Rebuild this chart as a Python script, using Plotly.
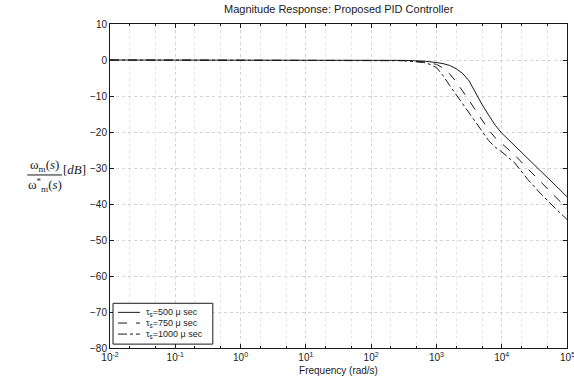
import plotly.graph_objects as go

# Closed-loop speed magnitude response for three sampling delays
log_freq = [-2.0, 2.0, 2.5, 2.8, 2.9, 3.0, 3.1, 3.2, 3.3, 3.4, 3.5, 3.6, 3.7,
            3.8, 3.9, 4.0, 4.2, 4.4, 4.6, 4.8, 5.0]
freq = [10 ** v for v in log_freq]

mag_500 = [0.0, -0.05, -0.1, -0.3, -0.45, -0.7, -1.0, -1.5, -2.4, -3.7, -5.8,
           -9.2, -12.4, -15.3, -18.1, -20.3, -23.9, -27.3, -30.9, -34.4, -38.0]
mag_750 = [0.0, -0.05, -0.15, -0.5, -0.8, -1.2, -2.2, -3.8, -6.0, -8.5, -11.2,
           -14.0, -16.8, -19.4, -21.6, -23.2, -26.4, -30.2, -34.0, -37.6, -41.2]
mag_1000 = [0.0, -0.05, -0.2, -0.7, -1.2, -2.1, -4.3, -7.0, -9.5, -12.0, -14.5,
            -17.1, -19.8, -22.4, -24.2, -25.5, -28.6, -33.2, -37.2, -40.8, -44.3]

series_names = ["τ<sub>s</sub>=500 μ sec", "τ<sub>s</sub>=750 μ sec",
                "τ<sub>s</sub>=1000 μ sec"]
series_dash = ["solid", "dash", "dashdot"]

x_tickvals = [1e-2, 1e-1, 1e0, 1e1, 1e2, 1e3, 1e4]
x_ticktext = ["10<sup>-2</sup>", "10<sup>-1</sup>", "10<sup>0</sup>",
              "10<sup>1</sup>", "10<sup>2</sup>", "10<sup>3</sup>",
              "10<sup>4</sup>"]
x_last_tick = 5
x_last_text = "10<sup>5</sup>"
y_tickvals = [10, 0, -10, -20, -30, -40, -50, -60, -70, -80]

INK = "#1a1a1a"
SANS = "Liberation Sans, Arial, sans-serif"

fig = go.Figure()
for name, mag, dash in zip(series_names, [mag_500, mag_750, mag_1000], series_dash):
    fig.add_trace(go.Scatter(
        x=freq, y=mag, mode="lines", name=name, showlegend=False,
        line=dict(color=INK, width=1, dash=dash),
    ))

axis_font = dict(family=SANS, size=10, color=INK)

fig.update_layout(
    width=574, height=380,
    margin=dict(l=110, r=6, t=24, b=30),
    paper_bgcolor="white", plot_bgcolor="white",
    title=dict(text="Magnitude Response: Proposed PID Controller",
               x=0.59, xanchor="center", y=0.985, yanchor="top",
               font=dict(family=SANS, size=11, color=INK)),
    font=axis_font,
    showlegend=False,
)

fig.update_xaxes(
    type="log", range=[-2, 5],
    tickvals=x_tickvals, ticktext=x_ticktext,
    ticks="inside", ticklen=4, tickcolor=INK,
    showline=True, linecolor=INK, linewidth=1, mirror="ticks",
    showgrid=True, gridcolor="#d4d4d4", griddash="dot", gridwidth=1,
    minor=dict(ticks="inside", ticklen=2, tickcolor=INK,
               showgrid=True, gridcolor="#e6e6e6", griddash="dot"),
    title=dict(text="Frequency (rad/s)", standoff=4,
               font=dict(family=SANS, size=10, color=INK)),
    tickfont=axis_font, zeroline=False,
)
fig.update_yaxes(
    range=[-80, 10], tickvals=y_tickvals,
    ticks="inside", ticklen=4, tickcolor=INK,
    showline=True, linecolor=INK, linewidth=1, mirror="ticks",
    showgrid=True, gridcolor="#d4d4d4", griddash="dot", gridwidth=1,
    tickfont=axis_font, zeroline=False,
)

# Right-most decade label sits on the frame edge, so place it explicitly
fig.add_annotation(xref="x", yref="paper", x=x_last_tick, y=0,
                   xanchor="center", yanchor="top", yshift=-1, showarrow=False,
                   text=x_last_text, font=axis_font)

# Compact legend box in the lower-left corner of the axes
fig.add_shape(type="rect", xref="paper", yref="paper",
              x0=0.0066, x1=0.225, y0=0.012, y1=0.138,
              line=dict(color=INK, width=1), fillcolor="white", layer="above")
legend_rows_y = [0.110, 0.077, 0.043]
for row_y, name, dash in zip(legend_rows_y, series_names, series_dash):
    fig.add_shape(type="line", xref="paper", yref="paper",
                  x0=0.0175, x1=0.0655, y0=row_y, y1=row_y,
                  line=dict(color=INK, width=1, dash=dash), layer="above")
    fig.add_annotation(xref="paper", yref="paper", x=0.074, y=row_y,
                       xanchor="left", yanchor="middle", showarrow=False,
                       text=name, font=dict(family=SANS, size=9, color=INK))

# Y-axis label drawn as a fraction: omega_m(s) / omega*_m(s) [dB]
serif = dict(family="Liberation Serif, Times New Roman, serif", size=13, color=INK)
fig.add_annotation(xref="paper", yref="paper", x=-0.143, y=0.534,
                   xanchor="center", yanchor="bottom", showarrow=False,
                   borderpad=0, text="ω<sub>m</sub>(<i>s</i>)", font=serif)
fig.add_annotation(xref="paper", yref="paper", x=-0.143, y=0.533,
                   xanchor="center", yanchor="top", showarrow=False,
                   borderpad=0, text="ω<sup>*</sup><sub>m</sub>(<i>s</i>)", font=serif)
fig.add_annotation(xref="paper", yref="paper", x=-0.106, y=0.552,
                   xanchor="left", yanchor="middle", showarrow=False,
                   borderpad=0, text="[<i>dB</i>]", font=serif)
fig.add_shape(type="line", xref="paper", yref="paper",
              x0=-0.181, x1=-0.105, y0=0.534, y1=0.534,
              line=dict(color=INK, width=1))

fig.write_html("out.html")
